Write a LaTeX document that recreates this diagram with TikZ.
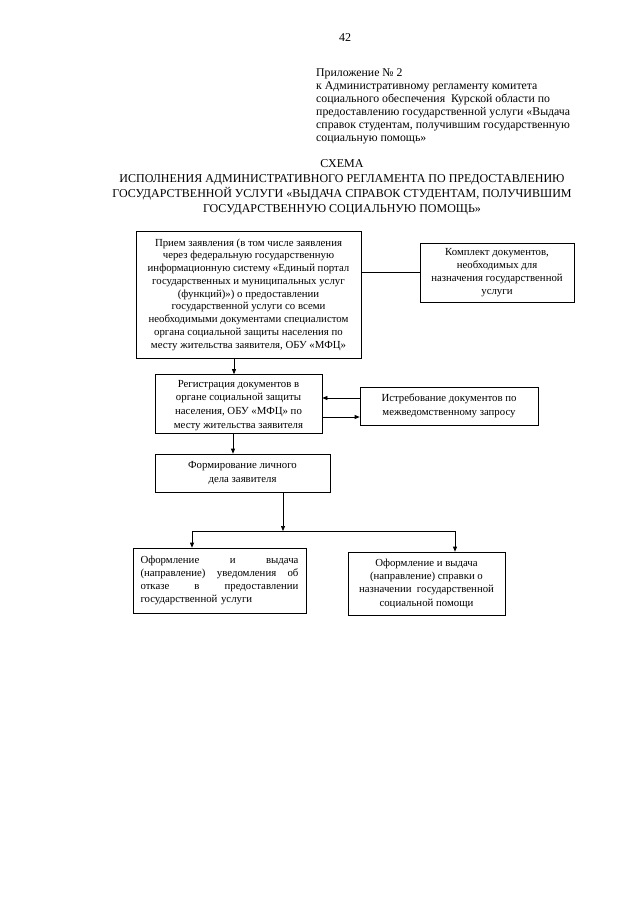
\documentclass[tikz,border=0pt]{standalone}
\usepackage{fontspec}
\setmainfont{Liberation Serif}
\usetikzlibrary{arrows.meta,calc}
\tikzset{
  box/.style={draw, line width=0.7pt, inner sep=2pt, align=center, font=\fontsize{10.8}{13}\selectfont},
  txt/.style={inner sep=0pt, align=center, font=\fontsize{10.8}{13}\selectfont},
  arr/.style={line width=0.7pt, -{Triangle[length=5pt,width=4pt]}},
  ln/.style={line width=0.7pt},
  hdr/.style={font=\fontsize{11.8}{13}\selectfont, align=left, anchor=north west, inner sep=0pt},
  ttl/.style={font=\fontsize{12}{15}\selectfont, align=center, inner sep=0pt}
}
\begin{document}
\begin{tikzpicture}[x=1pt,y=-1pt]
\useasboundingbox (0,0) rectangle (640,905);
\fill[white] (0,0) rectangle (640,905);
\node[font=\fontsize{12}{14}\selectfont] (pg) at (345,38) {42};
\node[hdr] (hd) at (316,68.5) {Приложение № 2\\
к Административному регламенту комитета\\
социального обеспечения~ Курской области по\\
предоставлению государственной услуги «Выдача\\
справок студентам, получившим государственную\\
социальную помощь»};
\node[ttl] (tt) at (342,187) {СХЕМА\\
ИСПОЛНЕНИЯ АДМИНИСТРАТИВНОГО РЕГЛАМЕНТА ПО ПРЕДОСТАВЛЕНИЮ\\
ГОСУДАРСТВЕННОЙ УСЛУГИ «ВЫДАЧА СПРАВОК СТУДЕНТАМ, ПОЛУЧИВШИМ\\
ГОСУДАРСТВЕННУЮ СОЦИАЛЬНУЮ ПОМОЩЬ»};

\node[box, minimum width=225pt, minimum height=127pt, font=\fontsize{10.8}{12.75}\selectfont] (b1) at (248.5,294.5) {Прием заявления (в том числе заявления\\
через федеральную государственную\\
информационную систему «Единый портал\\
государственных и муниципальных услуг\\
(функций)») о предоставлении\\
государственной услуги со всеми\\
необходимыми документами специалистом\\
органа социальной защиты населения по\\
месту жительства заявителя, ОБУ «МФЦ»};

\node[box, minimum width=154pt, minimum height=59pt] (b2) at (497,272.5) {Комплект документов,\\
необходимых для\\
назначения государственной\\
услуги};

\node[box, minimum width=167pt, minimum height=59pt] (b3) at (238.5,404) {};
\node[txt, font=\fontsize{10.8}{13.8}\selectfont] (b3t) at (238.5,405.5) {Регистрация документов в\\
органе социальной защиты\\
населения, ОБУ «МФЦ» по\\
месту жительства заявителя};

\node[box, minimum width=178pt, minimum height=38pt, font=\fontsize{10.8}{14}\selectfont] (b4) at (449,406) {Истребование документов по\\
межведомственному запросу};

\node[box, minimum width=175pt, minimum height=38pt, font=\fontsize{10.8}{14}\selectfont] (b5) at (242.5,473) {Формирование личного\\
дела заявителя};

\node[box, minimum width=173pt, minimum height=65pt, text width=158pt, align=left] (b6) at (219.5,580.5) {Оформление\hfill и\hfill выдача\\
(направление)\hfill уведомления\hfill об\\
отказе\hfill в\hfill предоставлении\\
государственной услуги};

\node[box, minimum width=157pt, minimum height=63pt, font=\fontsize{10.8}{13.3}\selectfont] (b7) at (426.5,583.5) {Оформление и выдача\\
(направление) справки о\\
назначении~ государственной\\
социальной помощи};

\coordinate (j) at (283,531);
\coordinate (jl) at (192,531);
\coordinate (jr) at (455,531);

\draw[ln] (b2.west) -- (b2.west -| b1.east);
\draw[arr] ([xshift=-14.5pt]b1.south) -- ([xshift=-14.5pt]b1.south |- b3.north);
\draw[arr] ([yshift=8pt]b4.west) -- ([yshift=8pt]b4.west -| b3.east);
\draw[arr] ([yshift=-11pt]b3.east |- b4.west) -- ([yshift=-11pt]b4.west);
\draw[arr] ([xshift=-5.5pt]b3.south) -- ([xshift=-5.5pt]b3.south |- b5.north);
\draw[arr] ([xshift=40.5pt]b5.south) -- (j);
\draw[ln] (jl) -- (jr);
\draw[arr] (jl) -- (jl |- b6.north);
\draw[arr] (jr) -- (jr |- b7.north);
\end{tikzpicture}
\end{document}
